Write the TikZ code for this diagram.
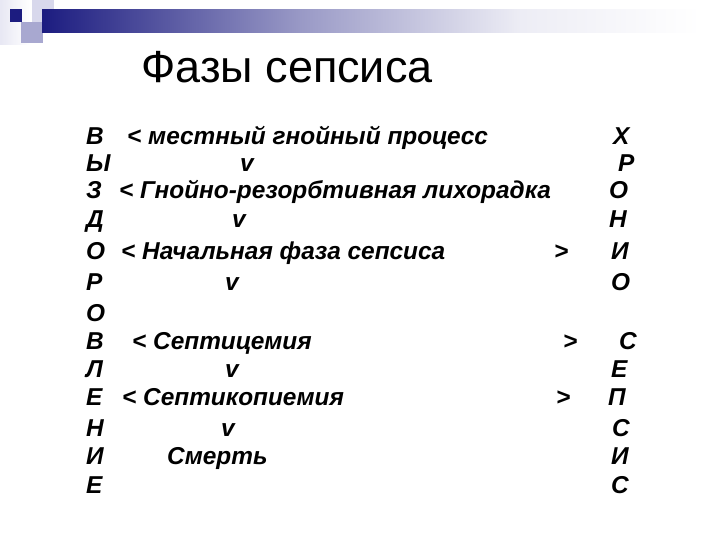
\documentclass[tikz,border=0pt]{standalone}
\usepackage{fontspec}
\setmainfont{Liberation Sans}
\begin{document}
\begin{tikzpicture}[x=1pt,y=-1pt,
  body/.style={anchor=base west,inner sep=0pt,font=\fontsize{24.4}{28}\selectfont\bfseries\itshape},
  title/.style={anchor=base,inner sep=0pt,font=\fontsize{45}{52}\selectfont}]
\useasboundingbox (0,0) rectangle (720,540);
\definecolor{navy}{HTML}{1C1C80}
\definecolor{lav}{HTML}{A8A8D0}
\definecolor{lav2}{HTML}{D8D8EC}
% decoration
\shade[left color=lav2!60,right color=white] (0,0) rectangle (30,45);
\fill[lav2] (32,0) rectangle (54,22);
\fill[lav] (21,22) rectangle (43,43);
\shade[left color=navy,right color=navy!45!white] (42,10) rectangle (300,33);
\shade[left color=navy!45!white,right color=navy!8!white] (300,10) rectangle (520,33);
\shade[left color=navy!8!white,right color=white] (520,10) rectangle (700,33);
\fill[navy] (10,9) rectangle (22,22);
% title
\node[title] (t) at (287,83) {Фазы сепсиса};
% left column
\foreach \l/\y [count=\i] in {В/145,Ы/172,З/199,Д/227,О/259,Р/290,О/321,В/349,Л/377,Е/405,Н/436,И/464,Е/493}
  \node[body] (L\i) at (86,\y) {\l};
% right column
\foreach \l/\x/\y [count=\i] in {Х/613/145,Р/618/172,О/609/199,Н/609/227,И/611/259,О/611/290,С/619/349,Е/611/377,П/608/405,С/612/436,И/611/464,С/611/493}
  \node[body] (R\i) at (\x,\y) {\l};
% middle
\node[body] (m1) at (127,145) {< местный гнойный процесс};
\node[body] (v1) at (240,172) {v};
\node[body] (m2) at (119,199) {< Гнойно-резорбтивная лихорадка};
\node[body] (v2) at (232,227) {v};
\node[body] (m3) at (121,259) {< Начальная фаза сепсиса};
\node[body] (g3) at (554,259) {>};
\node[body] (v3) at (225,290) {v};
\node[body] (m4) at (132,349) {< Септицемия};
\node[body] (g4) at (563,349) {>};
\node[body] (v4) at (225,377) {v};
\node[body] (m5) at (122,405) {< Септикопиемия};
\node[body] (g5) at (556,405) {>};
\node[body] (v5) at (221,436) {v};
\node[body] (m6) at (167,464) {Смерть};
\end{tikzpicture}
\end{document}
